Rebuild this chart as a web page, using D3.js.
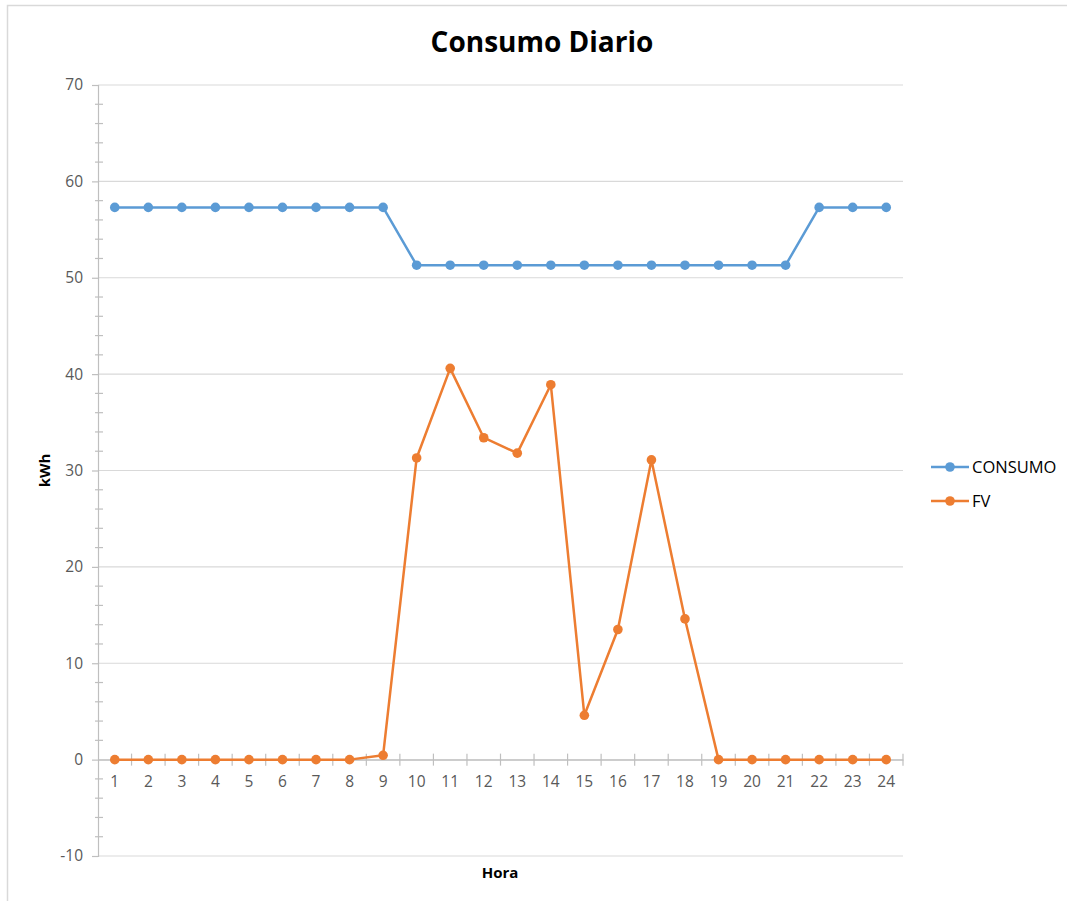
<!DOCTYPE html>
<html>
<head>
<meta charset="utf-8">
<script src="https://cdn.jsdelivr.net/npm/d3@7"></script>
<style>
  html, body { margin: 0; padding: 0; background: #fff; }
  svg { display: block; }
</style>
</head>
<body>
<div id="chart"></div>
<script>
'use strict';

// data
const horas = d3.range(1, 25).map(String);
const consumo = [57.3, 57.3, 57.3, 57.3, 57.3, 57.3, 57.3, 57.3, 57.3,
    51.3, 51.3, 51.3, 51.3, 51.3, 51.3, 51.3, 51.3, 51.3, 51.3, 51.3, 51.3,
    57.3, 57.3, 57.3];
const fv = [0, 0, 0, 0, 0, 0, 0, 0, 0.45, 31.3, 40.6, 33.4, 31.8, 38.9,
    4.6, 13.5, 31.1, 14.6, 0, 0, 0, 0, 0, 0];
const yTicks = [-10, 0, 10, 20, 30, 40, 50, 60, 70];
const seriesNames = ['CONSUMO', 'FV'];
const seriesColors = ['#5b9bd5', '#ed7d31'];

const width = 1067, height = 901;
const margin = {top: 85, right: 164, bottom: 45, left: 98};
const font = '"Open Sans", "Noto Sans", sans-serif';

const svg = d3.select('#chart').append('svg')
    .attr('width', width)
    .attr('height', height)
    .attr('font-family', font);

// chart frame
svg.append('rect')
    .attr('x', 7.5).attr('y', 5.5)
    .attr('width', width + 10).attr('height', height + 10)
    .attr('fill', 'none')
    .attr('stroke', '#d9d9d9')
    .attr('stroke-width', 1.5);

const x = d3.scaleBand()
    .domain(horas)
    .range([margin.left, width - margin.right]);

const y = d3.scaleLinear()
    .domain([-10, 70])
    .range([height - margin.bottom, margin.top]);

// gridlines
svg.append('g')
    .selectAll('line')
    .data(yTicks)
    .join('line')
    .attr('x1', margin.left)
    .attr('x2', width - margin.right)
    .attr('y1', d => y(d))
    .attr('y2', d => y(d))
    .attr('stroke', '#d9d9d9')
    .attr('stroke-width', 1.2);

// y axis, major ticks outside, minor ticks crossing
const yAxis = svg.append('g')
    .attr('transform', `translate(${margin.left},0)`)
    .call(d3.axisLeft(y).tickValues(yTicks).tickSize(6).tickPadding(9).tickFormat(d => String(d)));
yAxis.select('.domain').attr('stroke', '#bfbfbf').attr('stroke-width', 1.2);
yAxis.selectAll('.tick line').attr('stroke', '#bfbfbf').attr('stroke-width', 1.2);
yAxis.selectAll('.tick text')
    .attr('fill', '#595959')
    .attr('font-size', 15.5)
    .attr('font-family', font);

const minor = d3.range(-10, 70.1, 2).filter(d => d % 10 !== 0);
svg.append('g')
    .selectAll('line')
    .data(minor)
    .join('line')
    .attr('x1', margin.left - 3)
    .attr('x2', margin.left + 5)
    .attr('y1', d => y(d))
    .attr('y2', d => y(d))
    .attr('stroke', '#bfbfbf')
    .attr('stroke-width', 1.2);

// x axis crossing at 0
const xAxis = svg.append('g')
    .attr('transform', `translate(0,${y(0)})`)
    .call(d3.axisBottom(x).tickSize(0).tickPadding(16));
xAxis.select('.domain').attr('stroke', '#bfbfbf').attr('stroke-width', 1.2);
xAxis.selectAll('.tick text')
    .attr('fill', '#595959')
    .attr('font-size', 15.5)
    .attr('font-family', font);

const boundaries = horas.map(h => x(h) + x.bandwidth());
svg.append('g')
    .selectAll('line')
    .data(boundaries)
    .join('line')
    .attr('x1', d => d)
    .attr('x2', d => d)
    .attr('y1', y(0) - 6)
    .attr('y2', y(0) + 6)
    .attr('stroke', '#bfbfbf')
    .attr('stroke-width', 1.2);

// series
const cx = h => x(h) + x.bandwidth() / 2;
const line = d3.line()
    .x((d, i) => cx(horas[i]))
    .y(d => y(d));

[consumo, fv].forEach((values, si) => {
    const g = svg.append('g');
    g.append('path')
        .datum(values)
        .attr('d', line)
        .attr('fill', 'none')
        .attr('stroke', seriesColors[si])
        .attr('stroke-width', 2.5)
        .attr('stroke-linejoin', 'round');
    g.selectAll('circle')
        .data(values)
        .join('circle')
        .attr('cx', (d, i) => cx(horas[i]))
        .attr('cy', d => y(d))
        .attr('r', 4.8)
        .attr('fill', seriesColors[si]);
});

// title and axis labels
svg.append('text')
    .attr('x', 542)
    .attr('y', 52)
    .attr('text-anchor', 'middle')
    .attr('font-size', 28)
    .attr('font-weight', 'bold')
    .attr('fill', '#000')
    .text('Consumo Diario');

svg.append('text')
    .attr('transform', `translate(50,${(y(-10) + y(70)) / 2}) rotate(-90)`)
    .attr('text-anchor', 'middle')
    .attr('font-size', 15)
    .attr('font-weight', 'bold')
    .attr('fill', '#000')
    .text('kWh');

svg.append('text')
    .attr('x', 500)
    .attr('y', 878)
    .attr('text-anchor', 'middle')
    .attr('font-size', 15)
    .attr('font-weight', 'bold')
    .attr('fill', '#000')
    .text('Hora');

// legend
const legend = svg.append('g')
    .selectAll('g')
    .data(seriesNames)
    .join('g')
    .attr('transform', (d, i) => `translate(931,${467 + i * 34})`);
legend.append('line')
    .attr('x1', 0).attr('x2', 38)
    .attr('stroke', (d, i) => seriesColors[i])
    .attr('stroke-width', 2.5);
legend.append('circle')
    .attr('cx', 19).attr('r', 4.8)
    .attr('fill', (d, i) => seriesColors[i]);
legend.append('text')
    .attr('x', 41)
    .attr('dy', '0.35em')
    .attr('font-size', 16.5)
    .attr('fill', '#000')
    .text(d => d);
</script>
</body>
</html>
